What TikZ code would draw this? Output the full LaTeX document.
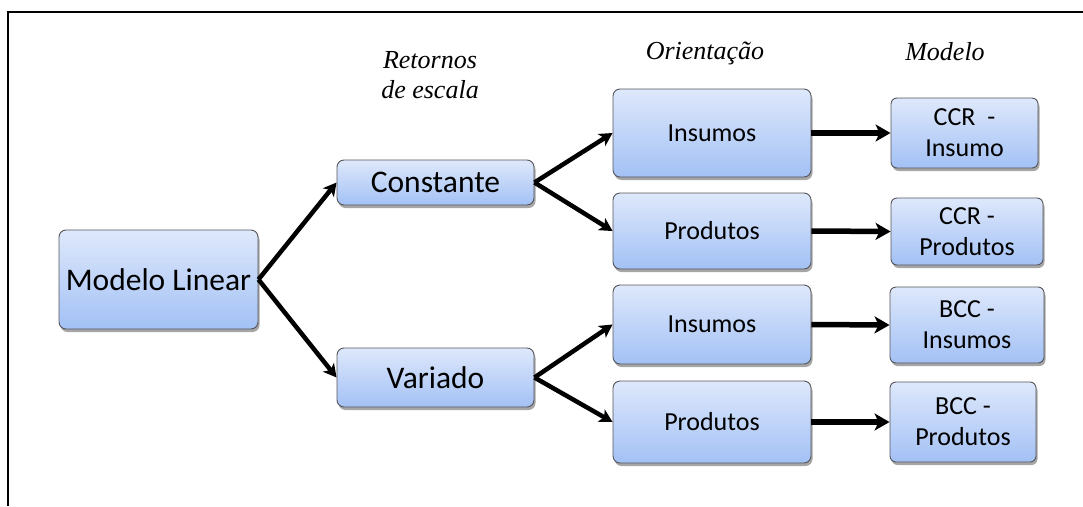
\documentclass[tikz,border=0pt]{standalone}
\usepackage{fontspec}
\setmainfont{Carlito}
\newfontfamily\hdrfont{Liberation Serif}
\usetikzlibrary{arrows.meta,shadows}
\definecolor{boxtop}{RGB}{222,232,251}
\definecolor{boxbot}{RGB}{163,193,245}
\definecolor{boxline}{RGB}{85,85,90}
\tikzset{
  box/.style={rectangle, rounded corners=7pt, draw=boxline, line width=0.9pt,
    top color=boxtop, bottom color=boxbot, align=center, inner sep=0pt,
    drop shadow={shadow xshift=1.5pt, shadow yshift=-3pt, opacity=0.35, fill=black}},
  big/.style={font=\fontsize{31.5}{36}\selectfont},
  small/.style={font=\fontsize{26}{31}\selectfont},
  hdr/.style={font=\hdrfont\itshape\fontsize{26}{30}\selectfont, align=center},
  diag/.style={line width=4.5pt, -{Stealth[length=13pt,width=14pt,inset=3.5pt]}},
  horiz/.style={line width=5.5pt, -{Stealth[length=15pt,width=17pt,inset=4pt]}},
  frameline/.style={line width=1.5pt, black}
}
\begin{document}
\begin{tikzpicture}[x=1pt,y=-1pt]
\useasboundingbox (0,0) rectangle (1083,506);
\coordinate (f0) at (1083,12);
\coordinate (f1) at (8,12);
\coordinate (f2) at (8,506);
\draw[frameline] (f0) -- (f1) -- (f2);
% headers
\node[hdr] (h1) at (430,75) {Retornos\\de escala};
\node[hdr] (h2) at (705,53) {Orientação};
\node[hdr] (h3) at (945,52) {Modelo};
% boxes
\node[box,big,minimum width=199pt,minimum height=99pt] (ml) at (158.5,279.5) {Modelo Linear};
\node[box,big,minimum width=197pt,minimum height=45pt] (cst) at (435.5,182.5) {Constante};
\node[box,big,minimum width=197pt,minimum height=59pt] (var) at (435.5,377.5) {Variado};
\node[box,small,minimum width=198pt,minimum height=88pt] (ins1) at (712,133) {Insumos};
\node[box,small,minimum width=198pt,minimum height=76pt] (prd1) at (712,231) {Produtos};
\node[box,small,minimum width=198pt,minimum height=79pt] (ins2) at (712,324.5) {Insumos};
\node[box,small,minimum width=198pt,minimum height=82pt] (prd2) at (712,422) {Produtos};
\node[box,small,rounded corners=6pt,minimum width=147pt,minimum height=70pt] (ccr1) at (964.5,133) {CCR~~-\\Insumo};
\node[box,small,rounded corners=6pt,minimum width=152pt,minimum height=67pt] (ccr2) at (967,231.5) {CCR -\\Produtos};
\node[box,small,rounded corners=6pt,minimum width=154pt,minimum height=76pt] (bcc1) at (967,325) {BCC -\\Insumos};
\node[box,small,rounded corners=6pt,minimum width=146pt,minimum height=80pt] (bcc2) at (963,422) {BCC -\\Produtos};
% connectors
\draw[diag] (ml.east) -- (cst.west);
\draw[diag] (ml.east) -- (var.west);
\draw[diag] (cst.east) -- (ins1.west);
\draw[diag] (cst.east) -- (prd1.west);
\draw[diag] (var.east) -- (ins2.west);
\draw[diag] (var.east) -- (prd2.west);
\draw[horiz] (ins1.east) -- (ccr1.west);
\draw[horiz] (prd1.east) -- (ccr2.west);
\draw[horiz] (ins2.east) -- (bcc1.west);
\draw[horiz] (prd2.east) -- (bcc2.west);
\end{tikzpicture}
\end{document}
